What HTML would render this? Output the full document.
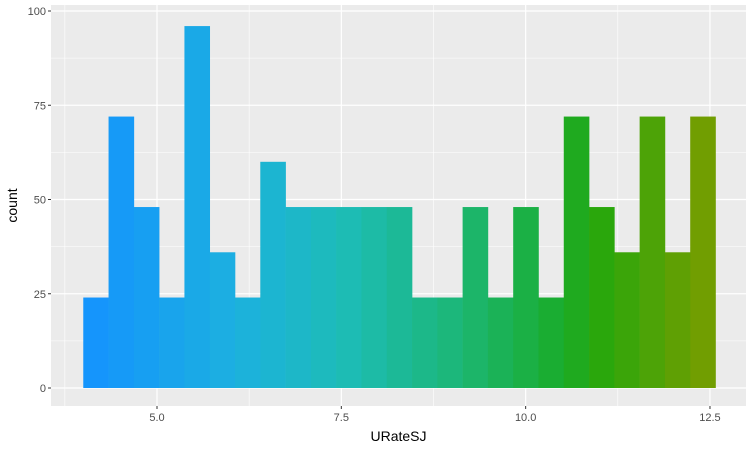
<!DOCTYPE html>
<html><head><meta charset="utf-8"><style>
body{margin:0;background:#fff;font-family:"Liberation Sans",sans-serif;}
</style></head><body>
<svg id="chart" width="754" height="447" xmlns="http://www.w3.org/2000/svg"></svg>
<script>
const binStart = 4.0;
const binWidth = 0.343;
const counts = [24,72,48,24,96,36,24,60,48,48,48,48,48,24,24,48,24,48,24,72,48,36,72,36,72];
const xTicks = [5.0,7.5,10.0,12.5];
const xTickLabels = ["5.0","7.5","10.0","12.5"];
const yTicks = [0,25,50,75,100];
const yTickLabels = ["0","25","50","75","100"];

const svg = document.getElementById('chart');
const NS = 'http://www.w3.org/2000/svg';
const P = {l:51, r:746, t:5, b:406};
const xs = v => 157 + (v-5)*73.73;
const ys = v => 388 - v*3.77;
function mk(tag, attrs){const e=document.createElementNS(NS,tag);for(const k in attrs)e.setAttribute(k,attrs[k]);svg.appendChild(e);return e;}

const panel = mk('rect',{x:P.l,y:P.t,width:P.r-P.l,height:P.b-P.t,fill:'#EBEBEB'});



// minor grid
for(let i=0;i<yTicks.length-1;i++){const v=(yTicks[i]+yTicks[i+1])/2;const g=mk('line',{x1:P.l,x2:P.r,y1:ys(v),y2:ys(v),stroke:'#fff','stroke-width':0.6});}
const xm=[xTicks[0]-1.25].concat(xTicks.slice(0,-1).map((v,i)=>(v+xTicks[i+1])/2));
xm.forEach(v=>{const g=mk('line',{x1:xs(v),x2:xs(v),y1:P.t,y2:P.b,stroke:'#fff','stroke-width':0.6});});
// major grid
yTicks.forEach(v=>{const g=mk('line',{x1:P.l,x2:P.r,y1:ys(v),y2:ys(v),stroke:'#fff','stroke-width':1.2});});
xTicks.forEach(v=>{const g=mk('line',{x1:xs(v),x2:xs(v),y1:P.t,y2:P.b,stroke:'#fff','stroke-width':1.2});});

// colors
const stops=[[4.0,[20,147,255]],[6.0,[28,176,224]],[7.5,[29,188,184]],[9.0,[28,183,122]],[10.5,[26,172,42]],[11.0,[40,167,12]],[12.6,[123,157,0]]];
function col(v){for(let i=0;i<stops.length-1;i++){const[a,ca]=stops[i],[b,cb]=stops[i+1];if(v<=b){const t=Math.max(0,(v-a)/(b-a));return 'rgb('+ca.map((c,j)=>Math.round(c+(cb[j]-c)*t)).join(',')+')';}}return 'rgb(123,157,0)';}

counts.forEach((c,i)=>{
  const x0=binStart+i*binWidth, x1=x0+binWidth;
  const r=mk('rect',{x:xs(x0),y:ys(c),width:xs(x1)-xs(x0)+0.3,height:ys(0)-ys(c),fill:col((x0+x1)/2)});
  
  
});

yTicks.forEach((v,i)=>{
  const t=mk('line',{x1:P.l-3,x2:P.l,y1:ys(v),y2:ys(v),stroke:'#333','stroke-width':1});
  
  const l=mk('text',{x:P.l-5,y:ys(v)+4,'text-anchor':'end','font-size':11,fill:'#4D4D4D'});l.textContent=yTickLabels[i];
  
});
xTicks.forEach((v,i)=>{
  const t=mk('line',{x1:xs(v),x2:xs(v),y1:P.b,y2:P.b+3,stroke:'#333','stroke-width':1});
  
  const l=mk('text',{x:xs(v),y:P.b+15,'text-anchor':'middle','font-size':11,fill:'#4D4D4D'});l.textContent=xTickLabels[i];
  
});
const xt=mk('text',{x:(P.l+P.r)/2,y:441,'text-anchor':'middle','font-size':14,fill:'#000'});xt.textContent='URateSJ';

const yt=mk('text',{x:0,y:0,'text-anchor':'middle','font-size':14,fill:'#000',transform:'translate(17,'+((P.t+P.b)/2)+') rotate(-90)'});yt.textContent='count';

</script>
</body></html>
